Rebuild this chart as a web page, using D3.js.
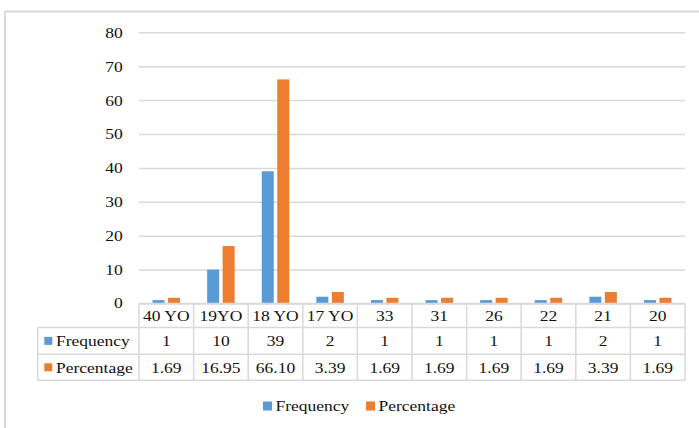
<!DOCTYPE html>
<html><head><meta charset="utf-8">
<script src="https://cdn.jsdelivr.net/npm/d3@7"></script>
<style>
html,body{margin:0;padding:0;background:#fff;}
svg{display:block;}
text{fill:#111;}
</style></head>
<body>
<svg id="c" width="699" height="428"></svg>
<script>
const categories = ["40 YO","19YO","18 YO","17 YO","33","31","26","22","21","20"];
const frequency = [1,10,39,2,1,1,1,1,2,1];
const percentage = [1.69,16.95,66.10,3.39,1.69,1.69,1.69,1.69,3.39,1.69];
const percentageLabels = ["1.69","16.95","66.10","3.39","1.69","1.69","1.69","1.69","3.39","1.69"];
const seriesNames = ["Frequency","Percentage"];
const yTicks = [0,10,20,30,40,50,60,70,80];

const colors = {Frequency:"#5B9BD5", Percentage:"#ED7D31"};
const grid = "#D9D9D9";
const FS = 15.5, SX = 1.13;
const FONT = "'Liberation Serif', 'Times New Roman', 'DejaVu Serif', serif";

const svg = d3.select("#c");
svg.append("path").attr("d","M5,430 L5,11.5 L705,11.5").attr("fill","none").attr("stroke",grid).attr("stroke-width",2);

const plotL = 139, plotR = 685, y0 = 303.5, y80 = 32.3;
const y = d3.scaleLinear().domain([0,80]).range([y0,y80]);
const x = d3.scaleBand().domain(categories).range([plotL,plotR]).paddingInner(0).paddingOuter(0);
const xs = d3.scaleBand().domain(seriesNames).range([0,x.bandwidth()]).paddingInner(0.226).paddingOuter(0.874);

function txt(g, s, tx, ty, anchor){
  return g.append("text").attr("transform",`translate(${tx},${ty}) scale(${SX},1)`)
    .attr("text-anchor",anchor).attr("font-family",FONT).attr("font-size",FS).attr("dy","0.35em").text(s);
}

const yAxis = d3.axisLeft(y).tickValues(yTicks).tickSize(-(plotR-plotL)).tickFormat("");
const ga = svg.append("g").attr("transform",`translate(${plotL},0)`).call(yAxis);
ga.select(".domain").remove();
ga.selectAll(".tick line").attr("stroke",grid).attr("stroke-width",1.5);
yTicks.forEach(t=>{ txt(svg, String(t), 122.7, y(t) - (t===0?1:0), "end"); });

const data = categories.map((c,i)=>({c, Frequency:frequency[i], Percentage:percentage[i]}));
const gb = svg.append("g");
data.forEach(d=>{
  seriesNames.forEach(s=>{
    gb.append("rect").attr("x",x(d.c)+xs(s)).attr("width",xs.bandwidth())
      .attr("y",y(d[s])).attr("height",y(0)-y(d[s])).attr("fill",colors[s]);
  });
});

const rowTops = [303.5, 327.5, 354.3, 380.3];
const tableL = 37.7;
const gt = svg.append("g").attr("stroke",grid).attr("stroke-width",1.5).attr("fill","none");
gt.append("line").attr("x1",plotL).attr("x2",plotR).attr("y1",rowTops[0]).attr("y2",rowTops[0]);
[1,2,3].forEach(i=>gt.append("line").attr("x1",tableL).attr("x2",plotR).attr("y1",rowTops[i]).attr("y2",rowTops[i]));
gt.append("line").attr("x1",tableL).attr("x2",tableL).attr("y1",rowTops[1]).attr("y2",rowTops[3]);
categories.forEach(c=>gt.append("line").attr("x1",x(c)).attr("x2",x(c)).attr("y1",rowTops[0]).attr("y2",rowTops[3]));
gt.append("line").attr("x1",plotR).attr("x2",plotR).attr("y1",rowTops[0]).attr("y2",rowTops[3]);

const cx = c => x(c)+x.bandwidth()/2;
const rc = i => (rowTops[i]+rowTops[i+1])/2;
categories.forEach((c,i)=>{
  txt(svg, c, cx(c), rc(0), "middle");
  txt(svg, String(frequency[i]), cx(c), rc(1), "middle");
  txt(svg, percentageLabels[i], cx(c), rc(2), "middle");
});
seriesNames.forEach((s,i)=>{
  const yc = rc(i+1);
  svg.append("rect").attr("x",44.3).attr("y",yc-4).attr("width",8).attr("height",8).attr("fill",colors[s]);
  txt(svg, s, 56, yc, "start");
});

const legX = [263, 366];
seriesNames.forEach((s,i)=>{
  svg.append("rect").attr("x",legX[i]).attr("y",401.5).attr("width",9).attr("height",9).attr("fill",colors[s]);
  txt(svg, s, legX[i]+12.5, 406, "start");
});
</script>
</body></html>
